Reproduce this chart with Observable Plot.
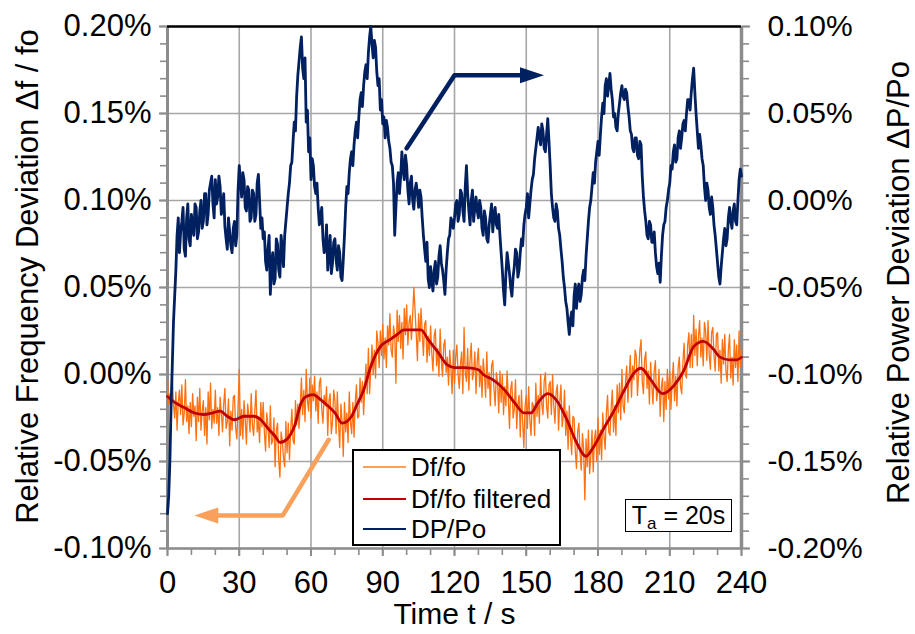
<!DOCTYPE html>
<html>
<head>
<meta charset="utf-8">
<script src="https://cdn.jsdelivr.net/npm/d3@7"></script>
<script src="https://cdn.jsdelivr.net/npm/@observablehq/plot@0.6"></script>
<style>
  html, body { margin: 0; padding: 0; background: #fff; }
  #wrap { position: relative; width: 915px; height: 634px; font-family: "Liberation Sans", Arial, sans-serif; }
  #legend { position: absolute; left: 352px; top: 449px; width: 205px; height: 93px; border: 2px solid #000; background: #fff; }
  .row { position: absolute; left: 0; height: 30px; display: flex; align-items: center; font-size: 26px; color: #000; white-space: nowrap; }
  .sw { display: inline-block; width: 43px; height: 0; margin-left: 9px; margin-right: 5px; }
  #ta { position: absolute; left: 625px; top: 499px; width: 105px; height: 31px; border: 1.5px solid #000; background: #fff;
        font-size: 25px; line-height: 31px; text-align: center; color: #000; white-space: nowrap; }
  #ta sub { font-size: 17px; vertical-align: -5px; line-height: 0; }
</style>
</head>
<body>
<div id="wrap"></div>
<script>
// ---------------- data ----------------
// time axis: one sample every 0.5 s, 0..240 s
const timeS = d3.range(0, 481).map(i => i / 2);

// DP/Po in % (right axis), 0.5 s steps
const dpPct = [
-0.180,-0.170,-0.150,-0.118,-0.095,-0.070,-0.055,-0.040,-0.020,-0.010,-0.030,-0.018,-0.012,-0.004,-0.028,-0.032,-0.010,-0.002,-0.022,-0.026,
-0.008,-0.016,-0.020,-0.002,-0.004,-0.022,-0.018,-0.006,0.000,-0.016,-0.012,0.004,0.004,-0.014,-0.008,0.006,0.010,0.014,-0.002,-0.010,
0.012,-0.002,0.002,0.014,0.008,-0.008,-0.004,0.004,-0.015,-0.022,-0.028,-0.010,-0.018,-0.026,-0.030,-0.016,-0.012,-0.026,-0.020,0.006,
0.020,0.010,0.002,0.016,0.012,-0.004,-0.006,0.008,0.006,-0.012,-0.010,0.006,0.004,-0.012,-0.008,0.010,0.015,0.000,-0.016,-0.010,
-0.022,-0.018,-0.035,-0.040,-0.028,-0.020,-0.054,-0.036,-0.030,-0.048,-0.045,-0.022,-0.025,-0.040,-0.044,-0.020,-0.028,-0.038,-0.020,-0.012,
-0.004,0.004,0.010,0.020,0.022,0.034,0.045,0.040,0.060,0.072,0.080,0.088,0.094,0.076,0.070,0.082,0.045,0.052,0.028,0.036,
0.012,0.024,0.020,0.008,0.004,0.010,-0.004,-0.014,-0.010,-0.004,-0.022,-0.030,-0.028,-0.014,-0.040,-0.030,-0.020,-0.042,-0.036,-0.024,
-0.022,-0.034,-0.040,-0.026,-0.030,-0.044,-0.046,-0.034,-0.020,-0.004,0.008,0.004,0.016,0.024,0.028,0.020,0.032,0.040,0.045,0.036,
0.048,0.058,0.062,0.054,0.066,0.074,0.078,0.070,0.085,0.094,0.100,0.090,0.082,0.092,0.088,0.074,0.066,0.070,0.052,0.058,
0.044,0.048,0.036,0.046,0.042,0.034,0.030,0.022,0.020,0.010,-0.020,-0.004,0.010,0.016,0.004,0.014,0.028,0.018,0.012,0.026,
0.020,0.006,-0.002,0.010,0.014,0.000,-0.005,0.006,0.010,0.004,-0.004,0.006,0.002,-0.010,-0.020,-0.028,-0.035,-0.024,-0.045,-0.050,
-0.038,-0.046,-0.052,-0.040,-0.035,-0.048,-0.044,-0.032,-0.026,-0.036,-0.040,-0.046,-0.054,-0.040,-0.030,-0.022,-0.020,-0.010,-0.012,-0.016,
-0.010,-0.002,0.000,-0.012,-0.008,0.006,0.004,-0.006,-0.012,0.008,0.020,0.004,-0.006,-0.014,0.000,0.006,-0.012,-0.004,0.002,-0.006,
-0.010,0.000,-0.004,-0.016,-0.020,-0.006,-0.010,-0.022,-0.024,-0.014,-0.008,-0.002,-0.018,-0.008,-0.004,-0.014,-0.016,-0.008,-0.020,-0.030,
-0.040,-0.052,-0.060,-0.042,-0.030,-0.036,-0.042,-0.050,-0.055,-0.044,-0.038,-0.028,-0.030,-0.044,-0.040,-0.030,-0.022,-0.026,-0.014,-0.008,
-0.004,0.004,-0.010,-0.002,0.006,0.012,0.015,0.024,0.030,0.036,0.042,0.036,0.032,0.044,0.040,0.030,0.028,0.038,0.047,0.034,
0.020,0.004,-0.004,-0.010,-0.012,-0.002,-0.006,-0.016,-0.020,-0.028,-0.035,-0.044,-0.050,-0.058,-0.062,-0.070,-0.077,-0.068,-0.064,-0.072,
-0.055,-0.048,-0.062,-0.052,-0.048,-0.058,-0.054,-0.044,-0.040,-0.046,-0.032,-0.022,-0.012,-0.004,0.000,0.008,0.016,0.010,0.022,0.028,
0.034,0.026,0.038,0.048,0.056,0.050,0.066,0.070,0.060,0.066,0.073,0.064,0.058,0.048,0.050,0.042,0.040,0.050,0.056,0.062,
0.066,0.060,0.058,0.064,0.062,0.054,0.048,0.040,0.038,0.030,0.028,0.036,0.036,0.026,0.024,0.034,0.032,0.014,0.002,-0.006,
-0.012,-0.020,-0.022,-0.012,-0.014,-0.024,-0.024,-0.018,-0.030,-0.038,-0.042,-0.036,-0.047,-0.032,-0.020,-0.014,-0.012,-0.004,0.000,0.006,
0.010,0.020,0.018,0.028,0.032,0.022,0.024,0.036,0.040,0.030,0.036,0.044,0.046,0.040,0.050,0.058,0.058,0.052,0.062,0.070,
0.076,0.062,0.050,0.040,0.030,0.038,0.032,0.024,0.020,0.008,0.000,0.010,0.006,-0.004,-0.008,0.002,-0.004,-0.014,-0.020,-0.028,
-0.036,-0.044,-0.048,-0.038,-0.030,-0.022,-0.016,-0.026,-0.022,-0.010,-0.004,-0.012,-0.016,-0.006,-0.002,-0.012,-0.014,0.000,0.012,0.018,
0.014
];

// Df/fo raw in % (left axis), 0.5 s steps
const dfPct = [
-0.003,-0.017,-0.011,-0.026,-0.001,-0.017,-0.025,-0.010,-0.032,-0.016,-0.009,-0.023,-0.006,-0.029,-0.022,-0.003,-0.027,-0.018,-0.034,-0.016,
-0.030,-0.011,-0.024,-0.018,-0.038,-0.013,-0.027,-0.008,-0.032,-0.021,-0.015,-0.035,-0.019,-0.040,-0.010,-0.026,-0.005,-0.031,-0.020,-0.028,
-0.009,-0.028,-0.019,-0.035,-0.013,-0.022,-0.033,-0.017,-0.008,-0.031,-0.027,-0.014,-0.041,-0.021,-0.032,-0.013,-0.012,-0.031,-0.037,-0.019,
0.003,-0.035,-0.020,-0.037,-0.015,-0.026,-0.040,-0.017,-0.023,-0.033,-0.011,-0.029,-0.035,-0.021,-0.009,-0.033,-0.026,-0.039,-0.016,-0.030,
-0.016,-0.033,-0.044,-0.022,-0.029,-0.042,-0.018,-0.040,-0.038,-0.025,-0.053,-0.032,-0.028,-0.049,-0.059,-0.033,-0.038,-0.048,-0.053,-0.027,
-0.045,-0.028,-0.049,-0.032,-0.020,-0.038,-0.040,-0.015,-0.029,-0.017,-0.031,-0.018,-0.002,-0.023,-0.009,-0.027,0.003,-0.015,-0.021,-0.002,
-0.025,-0.006,-0.015,-0.001,-0.021,-0.010,-0.028,-0.005,-0.002,-0.020,-0.028,-0.012,-0.018,-0.007,-0.035,-0.015,-0.011,-0.034,-0.027,-0.009,
-0.015,-0.034,-0.010,-0.028,-0.042,-0.017,-0.027,-0.047,-0.016,-0.033,-0.022,-0.039,-0.010,-0.027,-0.034,-0.016,-0.036,-0.016,-0.006,-0.025,
-0.024,-0.002,-0.016,-0.004,-0.023,-0.006,0.006,-0.011,0.015,-0.011,0.003,0.017,0.000,0.014,-0.002,0.025,0.018,0.004,0.025,0.011,
0.029,0.009,0.021,0.004,0.028,0.017,0.035,0.014,0.010,0.028,0.023,-0.005,0.037,0.019,0.034,0.015,0.030,0.009,0.038,0.023,
0.040,0.017,0.030,0.034,0.020,0.034,0.050,0.037,0.023,0.008,0.035,0.019,0.038,0.024,0.011,0.029,0.031,0.007,0.022,0.011,
0.028,0.012,0.002,0.022,0.026,0.005,0.015,-0.001,0.026,0.008,-0.001,0.017,0.020,0.001,0.010,-0.006,0.014,0.004,-0.011,0.014,
-0.005,0.010,0.017,0.000,-0.008,0.006,0.013,-0.011,0.027,0.001,-0.004,0.015,-0.009,0.008,0.018,-0.003,0.001,0.013,-0.011,0.008,
0.015,-0.007,0.005,-0.013,0.009,0.001,-0.013,0.013,-0.008,0.001,-0.018,0.005,0.008,-0.008,-0.018,0.001,-0.004,-0.022,0.002,-0.016,
0.000,-0.023,-0.007,-0.018,0.002,-0.014,-0.031,-0.008,-0.004,-0.025,-0.020,-0.003,-0.031,-0.017,-0.012,-0.036,-0.009,-0.027,-0.042,-0.018,
-0.012,-0.031,-0.007,-0.026,-0.035,-0.016,-0.018,-0.035,-0.005,-0.024,-0.012,-0.028,0.000,-0.017,-0.023,-0.004,0.001,-0.018,-0.025,-0.006,
-0.004,-0.023,0.000,-0.018,-0.028,-0.010,-0.006,-0.032,-0.016,-0.006,-0.030,-0.024,-0.009,-0.035,-0.021,-0.043,-0.018,-0.036,-0.046,-0.024,
-0.025,-0.044,-0.054,-0.033,-0.028,-0.045,-0.055,-0.034,-0.043,-0.072,-0.037,-0.053,-0.032,-0.057,-0.047,-0.032,-0.056,-0.037,-0.032,-0.050,
-0.025,-0.046,-0.032,-0.049,-0.022,-0.035,-0.043,-0.022,-0.012,-0.033,-0.035,-0.019,-0.009,-0.033,-0.018,-0.035,-0.006,-0.022,-0.005,-0.026,
0.003,-0.018,-0.022,-0.004,0.005,-0.016,-0.002,0.011,-0.013,0.005,-0.003,0.014,0.011,-0.012,0.001,0.014,0.020,-0.004,-0.011,0.009,
0.013,-0.008,0.002,-0.017,0.007,-0.006,-0.017,0.002,0.008,-0.015,-0.010,0.003,-0.024,-0.007,-0.002,-0.027,-0.004,-0.020,0.003,-0.014,
0.002,-0.020,-0.004,0.007,-0.015,-0.001,-0.018,0.004,0.010,-0.007,-0.011,0.007,0.018,0.000,-0.002,0.017,0.024,0.004,0.023,0.004,
0.034,0.011,0.026,0.005,0.022,0.031,0.010,0.021,0.005,0.030,0.025,0.008,0.031,0.011,0.003,0.024,0.027,0.011,0.002,0.023,
0.024,0.002,0.014,-0.005,0.020,0.006,0.023,0.002,-0.004,0.014,0.023,-0.002,0.010,-0.006,0.020,0.004,0.017,-0.004,0.025,0.004,
0.014
];

// Df/fo filtered in % (left axis)
const filtT = [0,3,7,11,15,19,22,25,28,32,36,39,42,45,47,50,53,56,58,61,64,67,70,73,77,79,82,85,89,93,96,99,103,106,109,113,117,120,124,127,130,132,136,141,145,149,152,155,159,163,167,171,175,178,182,187,191,195,198,202,207,212,216,220,224,228,231,235,238,240];
const filtPct = [-0.0126,-0.016,-0.019,-0.022,-0.023,-0.022,-0.021,-0.024,-0.026,-0.024,-0.024,-0.026,-0.031,-0.0355,-0.039,-0.037,-0.030,-0.016,-0.0126,-0.0116,-0.0145,-0.018,-0.022,-0.028,-0.024,-0.018,-0.009,0.0046,0.016,0.020,0.023,0.0256,0.0256,0.0256,0.020,0.013,0.0055,0.004,0.004,0.0036,0.0027,0.0,-0.003,-0.009,-0.016,-0.022,-0.022,-0.016,-0.011,-0.0155,-0.026,-0.039,-0.047,-0.042,-0.032,-0.020,-0.009,0.0008,0.0036,-0.003,-0.011,-0.006,0.0027,0.016,0.019,0.015,0.010,0.0084,0.0084,0.0099];

// axis ticks
const xMajor = [0, 30, 60, 90, 120, 150, 180, 210, 240];
const xMinor = d3.range(0, 241, 10);
const yMajor = [-0.10, -0.05, 0.00, 0.05, 0.10, 0.15, 0.20];
const yMinor = d3.range(-10, 21).map(d => d / 100);
const rightOffset = 0.10; // right axis value = left axis value - 0.10 %

// annotation arrows (data coordinates: s, left-axis %)
const navyArrowT = [100, 120, 148];
const navyArrowV = [0.130, 0.172, 0.172];
const navyHead = [{t: 152.4, v: 0.172}];
const orangeArrowT = [67.4, 48.2, 16];
const orangeArrowV = [-0.0375, -0.081, -0.081];
const orangeHead = [{t: 16.2, v: -0.081}];

// ---------------- build ----------------
const dp = timeS.map((t, i) => ({t, v: dpPct[i] + rightOffset}));
const df = timeS.map((t, i) => ({t, v: dfPct[i]}));
const filt = filtT.map((t, i) => ({t, v: filtPct[i]}));
const navyArrow = navyArrowT.map((t, i) => ({t, v: navyArrowV[i]}));
const orangeArrow = orangeArrowT.map((t, i) => ({t, v: orangeArrowV[i]}));

const fmt = d => { const v = Math.abs(d) < 1e-9 ? 0 : d; return v.toFixed(2) + "%"; };
const headRight = { draw(ctx) { ctx.moveTo(12, 0); ctx.lineTo(-12, -8); ctx.lineTo(-12, 8); ctx.closePath(); } };
const headLeft = { draw(ctx) { ctx.moveTo(-12, 0); ctx.lineTo(12, -8); ctx.lineTo(12, 8); ctx.closePath(); } };

const axisGray = "#8c8c8c";
const gridGray = "#a6a6a6";
const FS = 30;

const chart = Plot.plot({
  width: 915,
  height: 634,
  marginLeft: 167,
  marginRight: 174,
  marginTop: 26,
  marginBottom: 86,
  style: {fontFamily: "'Liberation Sans', Arial, sans-serif", fontSize: FS + "px", color: "#000", background: "#fff", overflow: "visible"},
  x: {domain: [0, 240]},
  y: {domain: [-0.10, 0.20]},
  marks: [
    Plot.gridX(xMajor, {stroke: gridGray, strokeOpacity: 1, strokeWidth: 1.6}),
    Plot.gridY(yMajor, {stroke: gridGray, strokeOpacity: 1, strokeWidth: 1.6}),
    // minor ticks
    Plot.axisY(yMinor, {anchor: "left", tickSize: 7, stroke: axisGray, strokeWidth: 1.6, tickFormat: () => "", label: null}),
    Plot.axisY(yMinor, {anchor: "right", tickSize: 7, stroke: axisGray, strokeWidth: 1.6, tickFormat: () => "", label: null}),
    Plot.axisX(xMinor, {anchor: "bottom", tickSize: 7, stroke: axisGray, strokeWidth: 1.6, tickFormat: () => "", label: null}),
    // major labels
    Plot.axisY(yMajor, {anchor: "left", tickSize: 8, tickPadding: 8, stroke: axisGray, strokeWidth: 2, fill: "#000", fontSize: 31, tickFormat: fmt, label: null}),
    Plot.axisY(yMajor, {anchor: "right", tickSize: 8, tickPadding: 18, stroke: axisGray, strokeWidth: 2, fill: "#000", fontSize: FS, tickFormat: d => fmt(d - rightOffset), label: null}),
    Plot.axisX(xMajor, {anchor: "bottom", tickSize: 8, tickPadding: 14, stroke: axisGray, strokeWidth: 2, fill: "#000", fontSize: 31, label: null}),
    // frame
    Plot.ruleY([-0.10], {stroke: axisGray, strokeWidth: 2.5}),
    Plot.ruleX([0], {stroke: axisGray, strokeWidth: 3}),
    Plot.ruleX([240], {stroke: axisGray, strokeWidth: 3.5}),
    Plot.ruleY([0.20], {stroke: "#000", strokeWidth: 2.5}),
    // series
    Plot.line(df, {x: "t", y: "v", stroke: "#ff7010", strokeWidth: 1.3}),
    Plot.line(filt, {x: "t", y: "v", stroke: "#c00000", strokeWidth: 2.8, curve: "monotone-x"}),
    Plot.line(dp, {x: "t", y: "v", stroke: "#002060", strokeWidth: 2.8}),
    // arrows
    Plot.line(navyArrow, {x: "t", y: "v", stroke: "#002060", strokeWidth: 4.5}),
    Plot.dot(navyHead, {x: "t", y: "v", symbol: headRight, fill: "#002060", stroke: null, r: 5}),
    Plot.line(orangeArrow, {x: "t", y: "v", stroke: "#f9a05a", strokeWidth: 4.5}),
    Plot.dot(orangeHead, {x: "t", y: "v", symbol: headLeft, fill: "#f9a05a", stroke: null, r: 5}),
    // axis titles
    Plot.text(["Relative Frequency Deviation \u0394f / fo"], {frameAnchor: "left", textAnchor: "middle", lineAnchor: "middle", rotate: -90, dx: -139, dy: -11, fontSize: 31, fill: "#000"}),
    Plot.text(["Relative Power Deviation \u0394P/Po"], {frameAnchor: "right", textAnchor: "middle", lineAnchor: "middle", rotate: -90, dx: 158, dy: -5, fontSize: 31, fill: "#000"}),
    Plot.text(["Time t / s"], {frameAnchor: "bottom", textAnchor: "middle", lineAnchor: "middle", dy: 66, fontSize: 30, fill: "#000"})
  ]
});

const wrap = document.getElementById("wrap");
wrap.appendChild(chart);

const legend = document.createElement("div");
legend.id = "legend";
const items = [
  {label: "Df/fo", color: "#f9a05a", top: 1},
  {label: "Df/fo filtered", color: "#c00000", top: 33},
  {label: "DP/Po", color: "#002060", top: 63}
];
for (const it of items) {
  const row = document.createElement("div");
  row.className = "row";
  row.style.top = it.top + "px";
  const sw = document.createElement("span");
  sw.className = "sw";
  sw.style.borderTop = "2.5px solid " + it.color;
  row.appendChild(sw);
  row.appendChild(document.createTextNode(it.label));
  legend.appendChild(row);
}
wrap.appendChild(legend);

const ta = document.createElement("div");
ta.id = "ta";
ta.innerHTML = "T<sub>a</sub> = 20s";
wrap.appendChild(ta);
</script>
</body>
</html>
